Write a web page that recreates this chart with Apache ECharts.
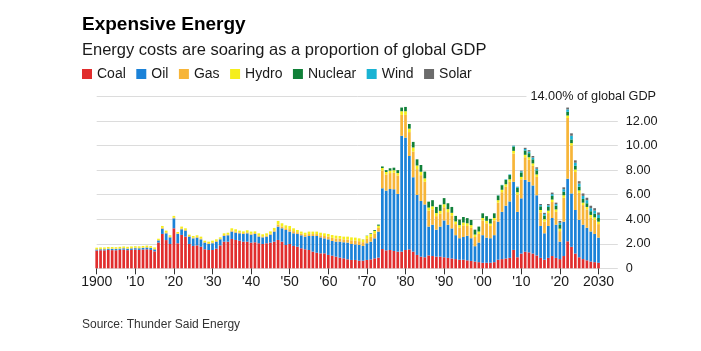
<!DOCTYPE html>
<html>
<head>
<meta charset="utf-8">
<script src="https://cdn.jsdelivr.net/npm/echarts@6/dist/echarts.min.js"></script>
<style>
  html, body { margin: 0; padding: 0; background: #fff; }
  #chart { width: 701px; height: 351px; }
</style>
</head>
<body>
<div id="chart"></div>
<script>
// years 1900..2030, one bar each; axis runs a few empty years past 2030
const years = [];
for (let y = 1900; y <= 2030; y++) years.push(y);
const axisYears = years.concat([2031, 2032, 2033, 2034, 2035]);

const tickYears = [1900, 1910, 1920, 1930, 1940, 1950, 1960, 1970, 1980, 1990, 2000, 2010, 2020, 2030];
const tickLabels = ['1900', "'10", "'20", "'30", "'40", "'50", "'60", "'70", "'80", "'90", "'00", "'10", "'20", '2030'];

// % of global GDP
const coal = [
  1.45, 1.47, 1.46, 1.5, 1.48, 1.47, 1.5, 1.52, 1.48, 1.5, 1.52, 1.5, 1.53, 1.55, 1.5, 1.38,
  2.1, 2.8, 2.3, 1.98, 3.26, 2.04, 2.72, 2.58, 1.98, 1.82, 1.87, 1.76, 1.55, 1.49,
  1.49, 1.6, 1.87, 2.17, 2.17, 2.39, 2.31, 2.25, 2.17, 2.17, 2.09, 2.12, 2.04, 1.98, 2.04, 2.09, 2.17, 2.31, 2.17, 1.9,
  1.98, 1.82, 1.76, 1.63, 1.55, 1.49, 1.36, 1.27, 1.22, 1.22, 1.09, 1.03, 0.95, 0.87, 0.81, 0.73, 0.68, 0.68, 0.62, 0.62, 0.68, 0.73, 0.81, 0.87,
  1.57, 1.46, 1.49, 1.41, 1.36, 1.36, 1.49, 1.54, 1.36, 1.09, 0.95, 0.9,
  1.05, 1.0, 0.95, 0.95, 0.9, 0.85, 0.8, 0.75, 0.7, 0.7, 0.65, 0.6, 0.55, 0.5,
  0.45, 0.45, 0.45, 0.5, 0.7, 0.75, 0.8, 0.85, 1.5, 0.9, 1.2, 1.35, 1.3, 1.2, 1.05, 0.85, 0.7, 0.85, 1.0, 0.85,
  0.75, 1.0, 2.2, 1.75, 1.2, 0.9, 0.75, 0.65, 0.55, 0.5, 0.45
];
const oil = [
  0.08, 0.08, 0.09, 0.09, 0.1, 0.1, 0.1, 0.11, 0.11, 0.12, 0.12, 0.13, 0.13, 0.14, 0.15, 0.16,
  0.17, 0.43, 0.55, 0.54, 0.81, 0.76, 0.46, 0.49, 0.6, 0.62, 0.63, 0.6, 0.54, 0.49,
  0.55, 0.57, 0.49, 0.46, 0.52, 0.6, 0.59, 0.6, 0.63, 0.68, 0.65, 0.68, 0.54, 0.54, 0.54, 0.65, 0.82, 1.08, 1.09, 1.22,
  1.01, 1.03, 1.04, 1.06, 1.03, 1.14, 1.27, 1.36, 1.3, 1.22, 1.27, 1.2, 1.22, 1.3, 1.31, 1.36, 1.3, 1.27, 1.28, 1.2, 1.36, 1.44, 1.63, 2.12,
  4.95, 4.87, 4.97, 5.03, 4.7, 9.44, 9.16, 7.61, 6.06, 4.89, 4.54, 4.3,
  2.35, 2.55, 2.2, 2.45, 3.0, 2.7, 2.45, 1.95, 1.75, 1.85, 2.0, 1.85, 1.25, 1.6,
  2.25, 2.05, 2.0, 2.2, 3.1, 3.85, 4.3, 4.6, 5.55, 3.7, 4.5, 5.85, 5.75, 5.55, 4.9, 2.6, 2.15, 2.6, 3.1, 2.7,
  1.42, 2.8, 5.1, 4.35, 3.55, 3.05, 2.8, 2.65, 2.45, 2.3, 2.05
];
const gas = [
  0.03, 0.03, 0.03, 0.03, 0.03, 0.03, 0.03, 0.03, 0.04, 0.04, 0.04, 0.04, 0.04, 0.04, 0.04, 0.04,
  0.04, 0.07, 0.07, 0.05, 0.06, 0.05, 0.07, 0.06, 0.05, 0.06, 0.06, 0.07, 0.05, 0.06,
  0.07, 0.06, 0.05, 0.07, 0.07, 0.09, 0.09, 0.08, 0.07, 0.08, 0.08, 0.07, 0.09, 0.08, 0.09, 0.09, 0.1, 0.17, 0.15, 0.14,
  0.2, 0.18, 0.14, 0.13, 0.14, 0.16, 0.16, 0.16, 0.17, 0.19, 0.22, 0.25, 0.26, 0.24, 0.24, 0.26, 0.3, 0.31, 0.31, 0.31, 0.36, 0.39, 0.39, 0.3,
  1.45, 1.3, 1.3, 1.35, 1.5, 1.7, 1.85, 1.95, 2.1, 2.1, 2.1, 1.85,
  1.3, 1.25, 1.1, 1.05, 1.07, 1.03, 1.03, 0.9, 0.85, 0.95, 0.8, 0.85, 0.75, 0.7,
  1.2, 1.17, 1.0, 1.2, 1.55, 1.6, 1.55, 1.6, 2.3, 1.4, 1.55, 1.85, 1.8, 1.6, 1.5, 1.1, 0.95, 1.05, 1.3, 1.05,
  0.86, 1.95, 4.95, 3.9, 3.1, 2.2, 1.6, 1.5, 1.15, 1.15, 1.1
];
const hydro = [
  0.12, 0.12, 0.12, 0.12, 0.12, 0.12, 0.12, 0.12, 0.12, 0.12, 0.12, 0.12, 0.12, 0.12, 0.12, 0.12,
  0.1, 0.15, 0.15, 0.12, 0.14, 0.11, 0.15, 0.13, 0.11, 0.13, 0.13, 0.15, 0.11, 0.13,
  0.14, 0.13, 0.11, 0.15, 0.14, 0.18, 0.19, 0.14, 0.14, 0.17, 0.17, 0.14, 0.18, 0.17, 0.18, 0.18, 0.2, 0.3, 0.26, 0.24,
  0.26, 0.23, 0.18, 0.17, 0.18, 0.2, 0.2, 0.2, 0.21, 0.22, 0.22, 0.23, 0.23, 0.22, 0.22, 0.23, 0.24, 0.24, 0.23, 0.22, 0.24, 0.24, 0.22, 0.18,
  0.2, 0.22, 0.2, 0.2, 0.2, 0.3, 0.3, 0.28, 0.33, 0.3, 0.28, 0.28,
  0.25, 0.25, 0.25, 0.23, 0.25, 0.24, 0.24, 0.22, 0.22, 0.23, 0.22, 0.22, 0.2, 0.2,
  0.2, 0.2, 0.2, 0.2, 0.2, 0.2, 0.2, 0.2, 0.22, 0.2, 0.2, 0.2, 0.2, 0.2, 0.2, 0.2, 0.2, 0.2, 0.2, 0.2,
  0.2, 0.2, 0.2, 0.2, 0.2, 0.2, 0.2, 0.2, 0.2, 0.2, 0.2
];
const nuclear = [
  0, 0, 0, 0, 0, 0, 0, 0, 0, 0, 0, 0, 0, 0, 0, 0,
  0, 0, 0, 0, 0, 0, 0, 0, 0, 0, 0, 0, 0, 0,
  0, 0, 0, 0, 0, 0, 0, 0, 0, 0, 0, 0, 0, 0, 0, 0, 0, 0, 0, 0,
  0, 0, 0, 0, 0, 0, 0, 0, 0, 0, 0, 0, 0, 0, 0, 0, 0, 0, 0, 0.01, 0.02, 0.05, 0.07, 0.09,
  0.13, 0.15, 0.19, 0.21, 0.24, 0.3, 0.35, 0.38, 0.45, 0.5, 0.55, 0.55,
  0.48, 0.5, 0.5, 0.5, 0.5, 0.48, 0.48, 0.45, 0.45, 0.45, 0.42, 0.42, 0.4, 0.4,
  0.38, 0.38, 0.38, 0.38, 0.38, 0.37, 0.36, 0.35, 0.35, 0.35, 0.36, 0.35, 0.33, 0.33, 0.33, 0.3, 0.3, 0.3, 0.3, 0.3,
  0.3, 0.3, 0.3, 0.3, 0.3, 0.3, 0.3, 0.3, 0.3, 0.3, 0.3
];
const wind = [
  0, 0, 0, 0, 0, 0, 0, 0, 0, 0, 0, 0, 0, 0, 0, 0,
  0, 0, 0, 0, 0, 0, 0, 0, 0, 0, 0, 0, 0, 0,
  0, 0, 0, 0, 0, 0, 0, 0, 0, 0, 0, 0, 0, 0, 0, 0, 0, 0, 0, 0,
  0, 0, 0, 0, 0, 0, 0, 0, 0, 0, 0, 0, 0, 0, 0, 0, 0, 0, 0, 0, 0, 0, 0, 0,
  0, 0, 0, 0, 0, 0, 0, 0, 0, 0, 0, 0,
  0, 0, 0, 0, 0, 0, 0, 0, 0, 0, 0, 0, 0, 0,
  0, 0, 0, 0, 0.02, 0.03, 0.04, 0.05, 0.07, 0.08, 0.1, 0.12, 0.13, 0.14, 0.13, 0.1, 0.12, 0.13, 0.14, 0.13,
  0.18, 0.2, 0.2, 0.3, 0.25, 0.25, 0.25, 0.25, 0.25, 0.25, 0.25
];
const solar = [
  0, 0, 0, 0, 0, 0, 0, 0, 0, 0, 0, 0, 0, 0, 0, 0,
  0, 0, 0, 0, 0, 0, 0, 0, 0, 0, 0, 0, 0, 0,
  0, 0, 0, 0, 0, 0, 0, 0, 0, 0, 0, 0, 0, 0, 0, 0, 0, 0, 0, 0,
  0, 0, 0, 0, 0, 0, 0, 0, 0, 0, 0, 0, 0, 0, 0, 0, 0, 0, 0, 0, 0, 0, 0, 0,
  0, 0, 0, 0, 0, 0, 0, 0, 0, 0, 0, 0,
  0, 0, 0, 0, 0, 0, 0, 0, 0, 0, 0, 0, 0, 0,
  0, 0, 0, 0, 0, 0, 0, 0, 0.01, 0.02, 0.05, 0.1, 0.12, 0.13, 0.12, 0.09, 0.1, 0.11, 0.13, 0.12,
  0.15, 0.15, 0.15, 0.2, 0.2, 0.2, 0.2, 0.2, 0.2, 0.2, 0.2
];

const seriesNames = ['Coal', 'Oil', 'Gas', 'Hydro', 'Nuclear', 'Wind', 'Solar'];
const seriesColors = ['#e12d2d', '#1b82d8', '#f7b538', '#f5ee1c', '#108038', '#19b3d3', '#6b6b6b'];
const seriesValues = [coal, oil, gas, hydro, nuclear, wind, solar];

const FONT = '"Liberation Sans", Arial, Helvetica, sans-serif';

const isTickYear = (i) => tickYears.indexOf(axisYears[i]) >= 0;

const chart = echarts.init(document.getElementById('chart'), null, { renderer: 'canvas' });

const option = {
  animation: false,
  backgroundColor: '#fff',
  textStyle: { fontFamily: FONT },
  title: [
    {
      text: 'Expensive Energy',
      left: 82,
      top: 15,
      padding: 0,
      textStyle: { fontSize: 19, fontWeight: 'bold', color: '#000', fontFamily: FONT },
    },
    {
      text: 'Energy costs are soaring as a proportion of global GDP',
      left: 82,
      top: 42,
      padding: 0,
      textStyle: { fontSize: 16.5, fontWeight: 'normal', color: '#1a1a1a', fontFamily: FONT },
    },
    {
      text: 'Source: Thunder Said Energy',
      left: 82,
      top: 319,
      padding: 0,
      textStyle: { fontSize: 12, fontWeight: 'normal', color: '#333', fontFamily: FONT },
    },
  ],
  legend: {
    data: seriesNames,
    left: 82,
    top: 67,
    padding: 0,
    icon: 'rect',
    itemWidth: 10,
    itemHeight: 10,
    itemGap: 10.5,
    selectedMode: false,
    textStyle: { fontSize: 14, color: '#1a1a1a', fontFamily: FONT },
  },
  grid: {
    left: 96.7,
    right: 83.2,
    top: 96.5,
    bottom: 82.7,
    containLabel: false,
  },
  xAxis: {
    type: 'category',
    data: axisYears,
    boundaryGap: false,
    axisLine: { show: false },
    splitLine: { show: false },
    axisTick: {
      show: true,
      length: 6,
      interval: (i) => isTickYear(i),
      lineStyle: { color: '#333', width: 1 },
    },
    axisLabel: {
      fontSize: 14,
      color: '#1a1a1a',
      margin: 7,
      fontFamily: FONT,
      interval: (i) => isTickYear(i),
      formatter: (v) => tickLabels[tickYears.indexOf(Number(v))] || '',
    },
  },
  yAxis: {
    type: 'value',
    position: 'right',
    min: 0,
    max: 14,
    interval: 2,
    axisLine: { show: false },
    axisTick: { show: false },
    splitLine: { show: true, lineStyle: { color: '#dcdcdc', width: 1 } },
    axisLabel: {
      fontSize: 12.7,
      color: '#1a1a1a',
      margin: 8,
      fontFamily: FONT,
      formatter: (v) => {
        if (v === 0) return '0';
        if (v === 14) return '';
        return v.toFixed(2);
      },
    },
  },
  graphic: [
    {
      type: 'text',
      x: 656,
      y: 96.5,
      z: 100,
      style: {
        text: '14.00% of global GDP',
        font: '12.7px "Liberation Sans", Arial, sans-serif',
        fill: '#1a1a1a',
        align: 'right',
        verticalAlign: 'middle',
        backgroundColor: '#fff',
        padding: [3, 0, 3, 4],
      },
    },
  ],
  series: seriesNames.map((name, k) => ({
    name,
    type: 'bar',
    stack: 'total',
    barWidth: 2.7,
    clip: false,
    itemStyle: { color: seriesColors[k] },
    emphasis: { disabled: true },
    data: seriesValues[k],
  })),
};

chart.setOption(option);
</script>
</body>
</html>
